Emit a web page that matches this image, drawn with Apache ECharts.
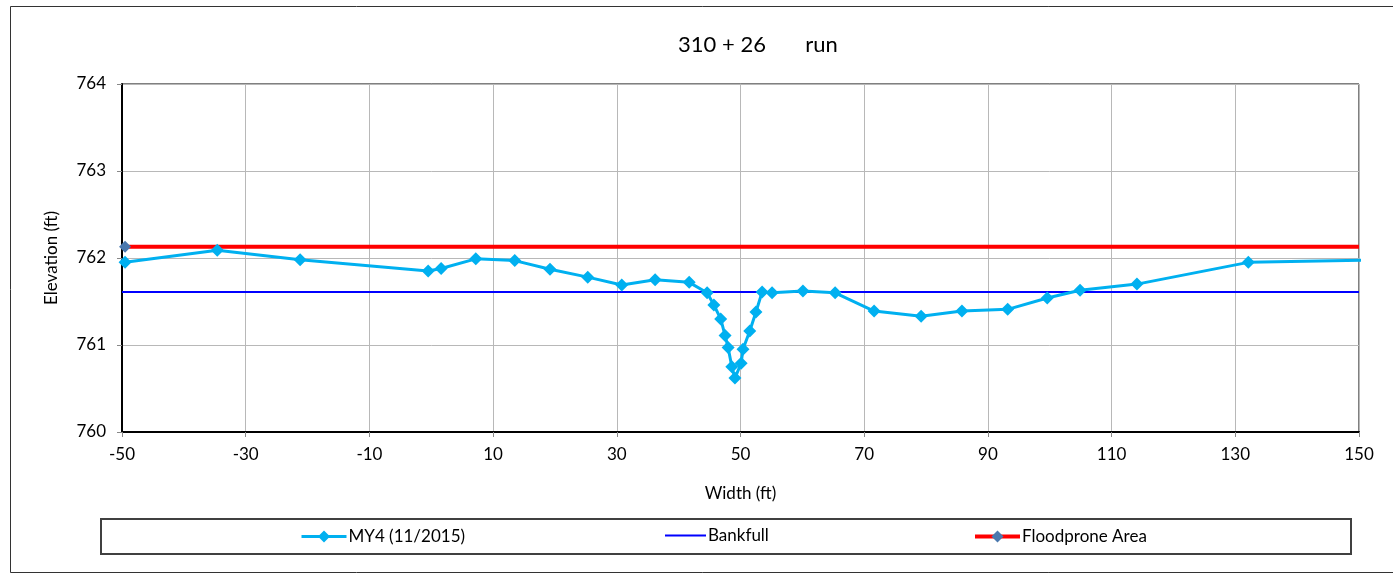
<!DOCTYPE html>
<html><head><meta charset="utf-8">
<script src="https://cdn.jsdelivr.net/npm/echarts@6/dist/echarts.min.js"></script>
<style>html,body{margin:0;padding:0;background:#fff}#c{width:1393px;height:574px}</style>
</head><body><div id="c"></div>
<script>
const titleText = '310 + 26       run';
const xTicks = { min: -50, max: 150, interval: 20 };
const yTicks = { min: 760, max: 764, interval: 1 };
const my4Station = [-49.5,-34.6,-21.2,-0.5,1.6,7.2,13.5,19.2,25.3,30.8,36.2,41.7,44.6,45.7,46.8,47.5,48.0,48.6,49.1,50.1,50.4,51.5,52.5,53.5,55.1,60.1,65.3,71.6,79.2,85.8,93.2,99.6,104.9,114.1,132.1,155.0];
const my4Elev = [761.95,762.09,761.98,761.85,761.88,761.99,761.97,761.87,761.78,761.69,761.75,761.72,761.60,761.46,761.30,761.11,760.97,760.75,760.62,760.79,760.95,761.16,761.38,761.61,761.60,761.62,761.60,761.39,761.33,761.39,761.41,761.54,761.63,761.70,761.95,761.98];
const bankfullStation = [-50, 150];
const bankfullElev = [761.61, 761.61];
const floodStation = [-50, -49.5, 150];
const floodElev = [762.13, 762.13, 762.13];
const floodMarker = [false, true, false];

const FONT = 'Lato';
const legendText = { fontFamily: FONT, fontSize: 17, color: '#000', padding: [0, 0, 0, -3] };
const chart = echarts.init(document.getElementById('c'));
chart.setOption({
  animation: false,
  backgroundColor: '#fff',
  title: { text: titleText, left: 753, top: 29, textAlign: 'center',
    textStyle: { fontFamily: FONT, fontSize: 22, fontWeight: 'normal', color: '#000' } },
  graphic: [
    { type: 'rect', shape: { x: 10.5, y: 6.5, width: 1400, height: 566 }, style: { fill: 'none', stroke: '#333', lineWidth: 1 }, z: 0 },
    { type: 'rect', shape: { x: 101, y: 519, width: 1250, height: 35 }, style: { fill: 'none', stroke: '#404040', lineWidth: 2 }, z: 0 }
  ],
  grid: { left: 122, top: 84, right: 34, bottom: 142, show: true, borderColor: '#000', borderWidth: 1 },
  xAxis: {
    type: 'value', min: xTicks.min, max: xTicks.max, interval: xTicks.interval,
    name: 'Width (ft)', nameLocation: 'middle', nameGap: 53,
    nameTextStyle: { fontFamily: FONT, fontSize: 17, color: '#000' },
    axisLine: { show: true, onZero: false, lineStyle: { color: '#000', width: 2 } },
    axisTick: { show: true, length: 5, lineStyle: { color: '#888' } },
    axisLabel: { fontFamily: FONT, fontSize: 17, color: '#000', margin: 14 },
    splitLine: { show: true, lineStyle: { color: '#B8B8B8', width: 1 } }
  },
  yAxis: {
    type: 'value', min: yTicks.min, max: yTicks.max, interval: yTicks.interval,
    name: 'Elevation (ft)', nameLocation: 'middle', nameGap: 62, nameRotate: 90,
    nameTextStyle: { fontFamily: FONT, fontSize: 17, color: '#000' },
    axisLine: { show: true, onZero: false, lineStyle: { color: '#000', width: 2 } },
    axisTick: { show: true, length: 5, lineStyle: { color: '#888' } },
    axisLabel: { fontFamily: FONT, fontSize: 17, color: '#000', margin: 16 },
    splitLine: { show: true, lineStyle: { color: '#B8B8B8', width: 1 } }
  },
  legend: [
    { data: ['MY4 (11/2015)'], left: 300, top: 528, padding: 0, itemWidth: 45, itemHeight: 15,
      lineStyle: { width: 3 }, textStyle: legendText },
    { data: [{ name: 'Bankfull', icon: 'rect' }], left: 665, top: 527, padding: 0, itemWidth: 41, itemHeight: 2,
      textStyle: legendText },
    { data: ['Floodprone Area'], left: 973, top: 528, padding: 0, itemWidth: 45, itemHeight: 15,
      lineStyle: { width: 4 }, textStyle: legendText }
  ],
  series: [
    { name: 'Bankfull', type: 'line', data: bankfullStation.map((x,i)=>[x, bankfullElev[i]]),
      symbol: 'none', lineStyle: { color: '#0000FF', width: 2 }, itemStyle: { color: '#0000FF' }, z: 2 },
    { name: 'Floodprone Area', type: 'line',
      data: floodStation.map((x,i)=>[x, floodElev[i]]),
      symbol: 'diamond', symbolSize: (v, p) => floodMarker[p.dataIndex] ? 12 : 0, showAllSymbol: true,
      lineStyle: { color: '#FF0000', width: 4 }, itemStyle: { color: '#4A78AE' }, z: 3 },
    { name: 'MY4 (11/2015)', type: 'line', data: my4Station.map((x,i)=>[x, my4Elev[i]]),
      symbol: 'diamond', symbolSize: 13, showAllSymbol: true, clip: true,
      lineStyle: { color: '#00B0F0', width: 3 }, itemStyle: { color: '#00B0F0' }, z: 4 }
  ]
});
</script></body></html>
